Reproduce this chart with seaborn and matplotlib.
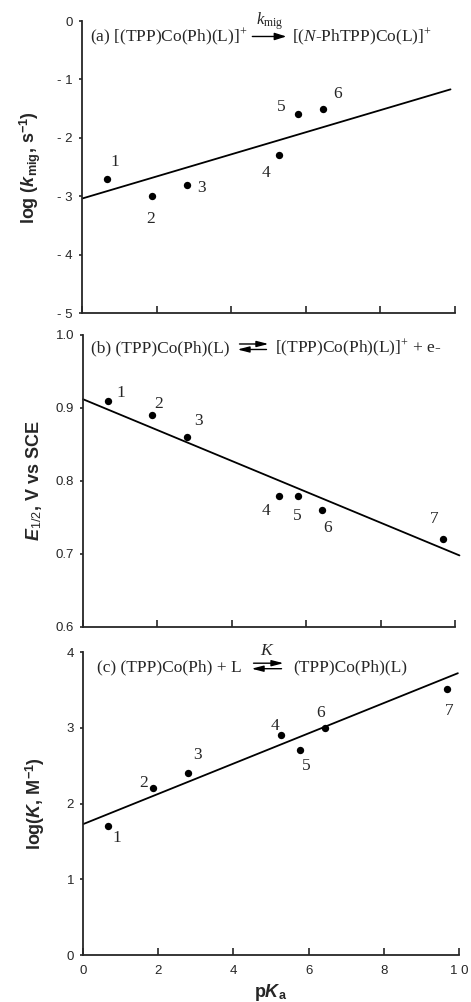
import matplotlib
matplotlib.use("Agg")
import matplotlib.pyplot as plt
import seaborn as sns
import pandas as pd

# ---------------- data ----------------
ids_a = ["1", "2", "3", "4", "5", "6"]
pka_a = [0.67, 1.87, 2.81, 5.29, 5.80, 6.45]
logkmig = [-2.70, -3.00, -2.80, -2.30, -1.60, -1.50]
fit_a_x = [0.0, 9.88]
fit_a_y = [-3.04, -1.17]

ids_bc = ["1", "2", "3", "4", "5", "6", "7"]
pka_bc = [0.66, 1.85, 2.80, 5.27, 5.77, 6.43, 9.68]
e_half = [0.91, 0.89, 0.86, 0.78, 0.78, 0.76, 0.72]
fit_b_x = [0.0, 10.12]
fit_b_y = [0.912, 0.698]

logK = [1.70, 2.20, 2.40, 2.90, 2.70, 3.00, 3.51]
fit_c_x = [0.0, 9.97]
fit_c_y = [1.727, 3.72]

yticks_a = [-5, -4, -3, -2, -1, 0]
yticklabels_a = ["- 5", "- 4", "- 3", "- 2", "- 1", "0"]
yticks_b = [0.6, 0.7, 0.8, 0.9, 1.0]
yticklabels_b = ["0.6", "0.7", "0.8", "0.9", "1.0"]
yticks_c = [0, 1, 2, 3, 4]
yticklabels_c = ["0", "1", "2", "3", "4"]
xticks = [0, 2, 4, 6, 8, 10]
xticklabels = ["0", "2", "4", "6", "8", "1 0"]

# ---------------- style ----------------
sns.set_style("ticks")
plt.rcParams["font.family"] = ["Liberation Sans", "DejaVu Sans"]
plt.rcParams["mathtext.fontset"] = "custom"
plt.rcParams["mathtext.rm"] = "Liberation Serif"
plt.rcParams["mathtext.it"] = "Liberation Serif:italic"
plt.rcParams["mathtext.bf"] = "Liberation Sans:bold"
plt.rcParams["mathtext.bfit"] = "Liberation Sans:italic:bold"
plt.rcParams["mathtext.sf"] = "Liberation Sans"
plt.rcParams["axes.linewidth"] = 1.3

fig = plt.figure(figsize=(4.71, 10.02), dpi=100)
ax_a = fig.add_axes([0.1741, 0.6876, 0.7919, 0.2914])
ax_b = fig.add_axes([0.1762, 0.3743, 0.7898, 0.2914])
ax_c = fig.add_axes([0.1762, 0.0469, 0.7983, 0.3024])
renderer = fig.canvas.get_renderer()

serif = ["Liberation Serif", "DejaVu Serif"]
num_fs = 12.5
eq_fs = 12.5


def style_axis(ax, ylim, yt, ytl, show_xlabels):
    ax.set_xlim(0, 10)
    ax.set_ylim(*ylim)
    sns.despine(ax=ax)
    ax.set_yticks(yt)
    ax.set_yticklabels(ytl, fontsize=9.5)
    ax.set_xticks(xticks)
    if show_xlabels:
        ax.set_xticklabels(xticklabels, fontsize=9.5)
    else:
        ax.set_xticklabels([])
    ax.tick_params(axis="x", direction="in", length=5, width=1.2, pad=7)
    ax.tick_params(axis="y", direction="out", length=2.5, width=1.2, pad=4)
    ax.set_xlabel("")
    ax.set_ylabel("")


def draw_panel(ax, x, y, ids, offsets, fx, fy, clip=True):
    df = pd.DataFrame({"pKa": x, "val": y})
    sns.scatterplot(data=df, x="pKa", y="val", ax=ax, color="black", s=28,
                    edgecolor="black", linewidth=0, zorder=3, legend=False)
    line = pd.DataFrame({"x": fx, "y": fy})
    sns.lineplot(data=line, x="x", y="y", ax=ax, color="black", lw=1.3,
                 legend=False, estimator=None, sort=False)
    for ln in ax.get_lines():
        ln.set_clip_on(clip)
    for xi, yi, lab, off in zip(x, y, ids, offsets):
        ax.annotate(lab, (xi, yi), xytext=off, textcoords="offset pixels",
                    ha="center", va="center", fontsize=num_fs, family=serif)


def equation(ax, xf, yf, left, right, kind, above, above_fs, gaps):
    t1 = ax.text(xf, yf, left, transform=ax.transAxes, ha="left",
                 va="baseline", fontsize=eq_fs, family=serif)
    bb = t1.get_window_extent(renderer)
    _, yb = ax.transAxes.transform((xf, yf))
    g1, alen, g2 = gaps
    xs = bb.x1 + g1
    xe = xs + alen
    if kind == "single":
        ap = dict(arrowstyle="-|>,head_length=0.7,head_width=0.22",
                  color="black", lw=1.0, shrinkA=0, shrinkB=0,
                  mutation_scale=10)
        ya = yb + 5
        ax.annotate("", xy=(xe, ya), xytext=(xs, ya), xycoords="figure pixels",
                    textcoords="figure pixels", arrowprops=ap)
        ytop = ya
    else:
        ap = dict(arrowstyle="-|>,head_length=0.7,head_width=0.18",
                  color="black", lw=1.0, shrinkA=0, shrinkB=0,
                  mutation_scale=10)
        y1 = yb + 8.5
        y2 = yb + 3
        ax.annotate("", xy=(xe, y1), xytext=(xs + 2, y1),
                    xycoords="figure pixels", textcoords="figure pixels",
                    arrowprops=ap)
        ax.annotate("", xy=(xs, y2), xytext=(xe - 2, y2),
                    xycoords="figure pixels", textcoords="figure pixels",
                    arrowprops=ap)
        ytop = y1
    if above:
        ax.annotate(above, xy=((xs + xe) / 2, ytop + 4),
                    xycoords="figure pixels", ha="center", va="bottom",
                    fontsize=above_fs, family=serif)
    ax.annotate(right, xy=(xe + g2, yb), xycoords="figure pixels",
                ha="left", va="baseline", fontsize=eq_fs, family=serif)


# panel (a)
off_a = [(8, 17), (-1, -23), (15, -3), (-13, -18), (-17, 7), (15, 15)]
draw_panel(ax_a, pka_a, logkmig, ids_a, off_a, fit_a_x, fit_a_y)
style_axis(ax_a, (-5, 0), yticks_a, yticklabels_a, False)
ax_a.set_ylabel(r"log ($\mathbfit{k}_{\mathbf{mig}}$, s$^{\mathbf{-1}}$)",
                fontsize=13, fontweight="bold", labelpad=10)
equation(ax_a, 0.021, 0.93, r"(a) [(TPP)Co(Ph)(L)]$^{+}$",
         r"[($\mathit{N}$-PhTPP)Co(L)]$^{+}$", "single",
         r"$k_{\mathrm{mig}}$", 12, (5, 34, 6))

# panel (b)
off_b = [(13, 8), (7, 11), (11, 16), (-13, -15), (0, -20), (5, -18), (-9, 20)]
draw_panel(ax_b, pka_bc, e_half, ids_bc, off_b, fit_b_x, fit_b_y, clip=False)
style_axis(ax_b, (0.6, 1.0), yticks_b, yticklabels_b, False)
ax_b.set_ylabel(r"$\mathbfit{E}_{\mathsf{1/2}}$, V vs SCE",
                fontsize=13, fontweight="bold", labelpad=8)
equation(ax_b, 0.0215, 0.94, r"(b) (TPP)Co(Ph)(L)",
         r"[(TPP)Co(Ph)(L)]$^{+}$ + e-", "eq", None, 12, (8, 31, 7))

# panel (c)
off_c = [(9, -12), (-9, 5), (9, 18), (-6, 9), (6, -16), (-4, 15), (2, -22)]
draw_panel(ax_c, pka_bc, logK, ids_bc, off_c, fit_c_x, fit_c_y)
style_axis(ax_c, (0, 4), yticks_c, yticklabels_c, True)
ax_c.set_ylabel(r"log($\mathbfit{K}$, M$^{\mathbf{-1}}$)",
                fontsize=13, fontweight="bold", labelpad=14)
ax_c.set_xlabel(r"p$\mathbfit{K}_{\mathbf{a}}$", fontsize=13,
                fontweight="bold", labelpad=4)
equation(ax_c, 0.037, 0.935, r"(c) (TPP)Co(Ph) + L",
         r"(TPP)Co(Ph)(L)", "eq", r"$K$", 12.5, (10, 32, 10))

fig.savefig("out.png", dpi=100)
